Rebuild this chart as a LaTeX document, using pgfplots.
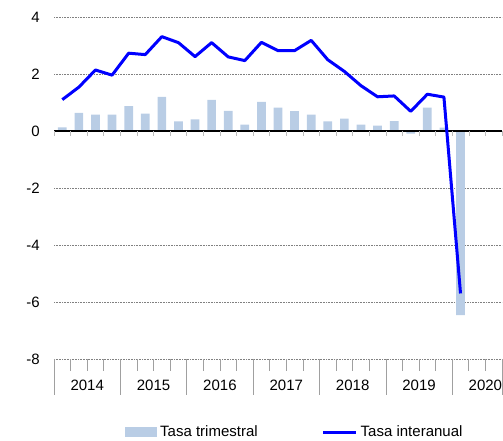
\documentclass[border=0pt]{standalone}
\usepackage{fontspec}
\setmainfont{Liberation Sans}
\usepackage{pgfplots}
\pgfplotsset{compat=1.18}
\definecolor{barblue}{HTML}{B9CDE5}
\definecolor{tickgray}{HTML}{A0A0A0}
\begin{document}
\begin{tikzpicture}[x=1pt,y=1pt]
\useasboundingbox (0,0) rectangle (503,441);
\begin{axis}[
 at={(54pt,82pt)}, anchor=south west,
 scale only axis, width=448pt, height=342pt,
 xmin=0, xmax=27, ymin=-8, ymax=4,
 clip=false,
 axis x line*=bottom, axis y line*=left,
 x axis line style={draw=none}, y axis line style={draw=none},
 tick align=outside,
 major tick length=0pt, minor tick length=12pt,
 ytick={-8,-6,-4,-2,0,2,4}, yticklabels={-8,-6,-4,-2,0,2,4},
 ytick style={draw=none},
 yticklabel style={anchor=east, inner sep=0pt, xshift=-14pt},
 xtick={2,6,...,26}, xticklabels={2014,2015,2016,2017,2018,2019,2020},
 major x tick style={draw=none},
 minor xtick={0,1,...,27},
 minor x tick style={tickgray, line width=0.7pt},
 xticklabel style={anchor=base, inner sep=0pt, yshift=-31.5pt},
 tick label style={font=\fontsize{15}{18}\selectfont},
 ymajorgrids,
 grid style={gray, line width=0.6pt, dash pattern=on 0.8pt off 0.8pt},
 legend style={draw=none, fill=none, inner sep=0pt, at={(0.1585,-0.2135)}, anchor=west,
   font=\fontsize{15}{18}\selectfont, nodes={inner sep=0pt},
   /tikz/every odd column/.style={column sep=3pt},
   /tikz/every even column/.style={column sep=64pt}},
 legend columns=2,
 legend cell align=left,
]
\addplot[ybar, bar width=8.7pt, bar shift=0pt, fill=barblue, draw=none,
  legend image code/.code={\fill[barblue] (0pt,-5pt) rectangle (32pt,5pt);}]
 coordinates {
 (0.5,0.13) (1.5,0.64) (2.5,0.57) (3.5,0.57)
 (4.5,0.87) (5.5,0.61) (6.5,1.20) (7.5,0.34)
 (8.5,0.41) (9.5,1.09) (10.5,0.71) (11.5,0.22)
 (12.5,1.02) (13.5,0.82) (14.5,0.70) (15.5,0.57)
 (16.5,0.34) (17.5,0.43) (18.5,0.22) (19.5,0.19)
 (20.5,0.35) (21.5,-0.09) (22.5,0.82) (23.5,0.12)
 (24.5,-6.46)
 };
\addlegendentry{Tasa trimestral}
\draw[black, line width=1.1pt] (axis cs:0,0) -- (axis cs:27,0);
\pgfplotsinvokeforeach{0,1,...,27}{\draw[tickgray!70, line width=0.6pt] (axis cs:#1,0) -- ([yshift=-5pt]axis cs:#1,0);}
\pgfplotsinvokeforeach{0,4,8,12,16,20,24,27}{\draw[tickgray, line width=0.7pt] (axis cs:#1,-8) -- ([yshift=-36pt]axis cs:#1,-8);}
\addplot[blue, line width=3pt, line join=round, mark=none,
  legend image code/.code={\draw[blue, line width=3pt] (0pt,0pt) -- (33pt,0pt);}]
 coordinates {
 (0.5,1.10) (1.5,1.54) (2.5,2.14) (3.5,1.96)
 (4.5,2.73) (5.5,2.68) (6.5,3.31) (7.5,3.10)
 (8.5,2.61) (9.5,3.10) (10.5,2.60) (11.5,2.47)
 (12.5,3.11) (13.5,2.82) (14.5,2.82) (15.5,3.18)
 (16.5,2.50) (17.5,2.09) (18.5,1.59) (19.5,1.20)
 (20.5,1.23) (21.5,0.69) (22.5,1.29) (23.5,1.19)
 (24.5,-5.70)
 };
\addlegendentry{Tasa interanual}
\end{axis}
\end{tikzpicture}
\end{document}
